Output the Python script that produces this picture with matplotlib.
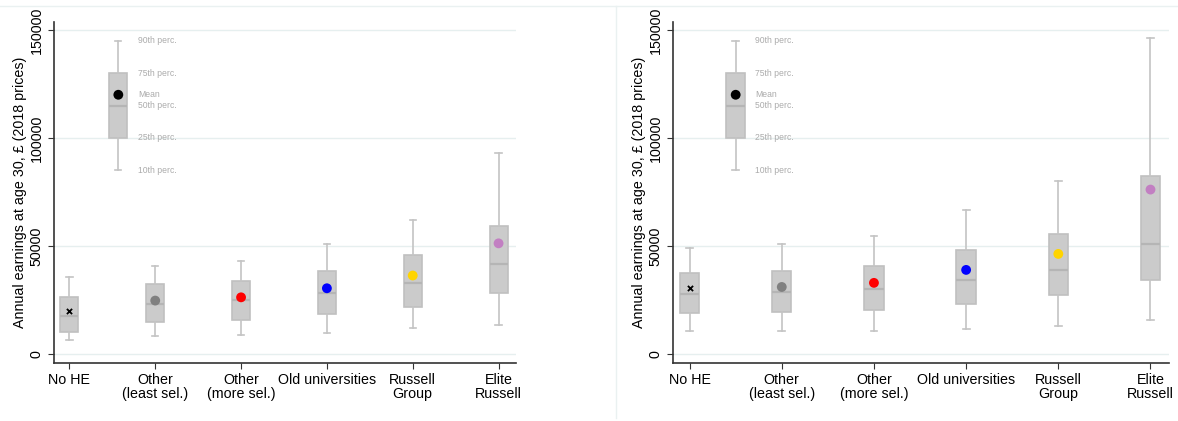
import numpy as np
import matplotlib
matplotlib.use("Agg")
import matplotlib.pyplot as plt
from matplotlib.lines import Line2D

plt.rcParams['font.family'] = ['Liberation Sans', 'DejaVu Sans']

categories = ['No HE', 'Other\n(least sel.)', 'Other\n(more sel.)',
              'Old universities', 'Russell\nGroup', 'Elite\nRussell']
mean_colors = ['black', '#808080', '#ff0000', '#0000ff', '#ffd400', '#c27fc2']

# left panel: p10, p25, p50, p75, p90, mean
left_p10 = [6300, 8500, 8800, 9900, 11900, 13300]
left_p25 = [10300, 15000, 15900, 18400, 21900, 28100]
left_p50 = [17600, 23000, 25000, 28200, 33000, 41700]
left_p75 = [26200, 32400, 33700, 38300, 45700, 59400]
left_p90 = [35800, 40700, 43000, 51100, 62000, 93000]
left_mean = [19900, 24700, 26200, 30400, 36300, 51200]

# right panel
right_p10 = [10500, 10800, 10800, 11600, 13100, 15700]
right_p25 = [18800, 19600, 20200, 23000, 27200, 34100]
right_p50 = [27800, 28800, 30200, 34300, 38900, 50900]
right_p75 = [37400, 38300, 40600, 48000, 55400, 82300]
right_p90 = [49100, 50800, 54800, 66800, 80200, 146300]
right_mean = [30400, 31000, 32900, 38900, 46300, 76100]

# key box
key_stats = [85000, 100000, 115000, 130000, 145000, 120000]
key_labels = ['10th perc.', '25th perc.', '50th perc.', '75th perc.', '90th perc.', 'Mean']

BOX_FILL = '#cbcbcb'
BOX_EDGE = '#c0c0c0'
WHISK = '#c4c4c4'
MED = '#b5b5b5'
GRID = '#e6efef'
FS = 10.3


def stats_list(p10, p25, p50, p75, p90):
    return [dict(whislo=a, q1=b, med=c, q3=d, whishi=e, fliers=[])
            for a, b, c, d, e in zip(p10, p25, p50, p75, p90)]


def draw_boxes(ax, stats, positions, width):
    ax.bxp(stats, positions=positions, widths=width, patch_artist=True,
           showfliers=False, manage_ticks=False,
           boxprops=dict(facecolor=BOX_FILL, edgecolor=BOX_EDGE, linewidth=1.2),
           whiskerprops=dict(color=WHISK, linewidth=1.2),
           capprops=dict(color=WHISK, linewidth=1.2),
           medianprops=dict(color=MED, linewidth=1.6),
           capwidths=width * 0.35)


def panel(ax, p10, p25, p50, p75, p90, mean, key_x):
    pos = np.arange(len(categories))
    draw_boxes(ax, stats_list(p10, p25, p50, p75, p90), pos, 0.21)
    for i, (m, c) in enumerate(zip(mean, mean_colors)):
        if i == 0:
            ax.scatter(i, m, marker='x', color='black', s=14, linewidths=1.3, zorder=5)
        else:
            ax.scatter(i, m, marker='o', color=c, s=50, zorder=5, edgecolors='none')

    # key box
    draw_boxes(ax, stats_list([key_stats[0]], [key_stats[1]], [key_stats[2]],
                              [key_stats[3]], [key_stats[4]]), [key_x], 0.21)
    ax.scatter(key_x, key_stats[5], marker='o', color='black', s=50, zorder=5,
               edgecolors='none')
    for v, lab in zip(key_stats, key_labels):
        ax.annotate(lab, (key_x, v), xytext=(14, 0), textcoords='offset points',
                    fontsize=6.2, color='#ababab', va='center', ha='left')

    ax.set_xlim(-0.18, 5.2)
    ax.set_ylim(-4200, 153700)
    ax.set_yticks([0, 50000, 100000, 150000])
    ax.set_yticklabels(['0', '50000', '100000', '150000'], rotation=90, va='center')
    ax.set_xticks(pos)
    ax.set_xticklabels(categories, fontsize=FS, linespacing=1.0)
    ax.tick_params(axis='y', labelsize=FS, length=4, color='#333333')
    ax.tick_params(axis='x', length=4, color='#333333')
    ax.set_ylabel('Annual earnings at age 30, £ (2018 prices)', fontsize=FS, labelpad=2)
    ax.grid(axis='y', color=GRID, linewidth=1)
    ax.set_axisbelow(True)
    for s in ['top', 'right']:
        ax.spines[s].set_visible(False)
    for s in ['left', 'bottom']:
        ax.spines[s].set_color('#333333')
        ax.spines[s].set_linewidth(1.2)


fig = plt.figure(figsize=(11.78, 4.21), dpi=100)
ax1 = fig.add_axes([0.0458, 0.1378, 0.392, 0.81])
ax2 = fig.add_axes([0.5713, 0.1378, 0.421, 0.81])

panel(ax1, left_p10, left_p25, left_p50, left_p75, left_p90, left_mean, 0.57)
panel(ax2, right_p10, right_p25, right_p50, right_p75, right_p90, right_mean, 0.5)

# faint panel frames
fig.add_artist(Line2D([0, 1], [0.986, 0.986], color='#eaf1f1', linewidth=1))
fig.add_artist(Line2D([0.523, 0.523], [0.007, 0.986], color='#eaf1f1', linewidth=1))

fig.savefig('out.png', dpi=100)
